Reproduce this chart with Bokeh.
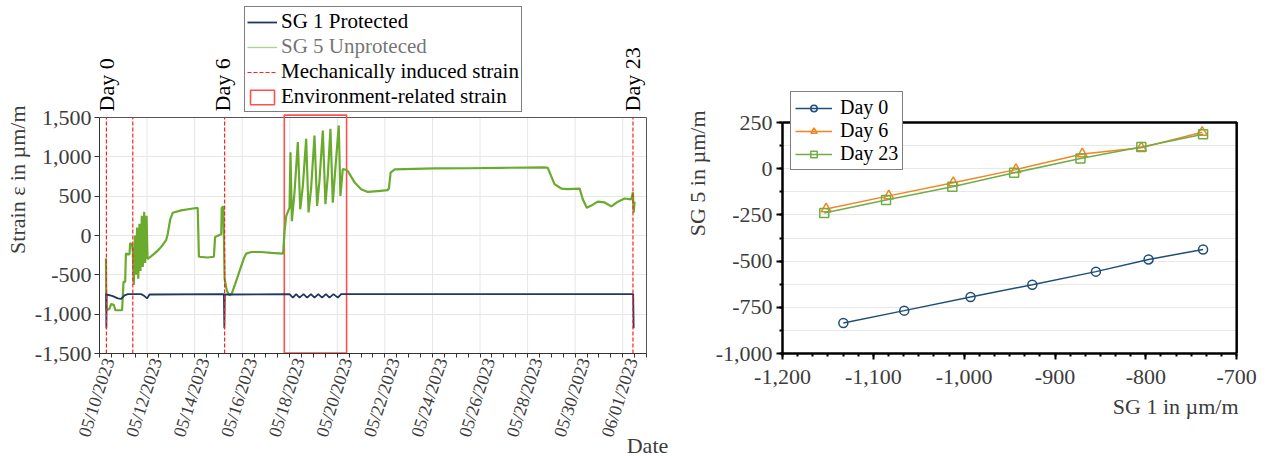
from math import pi
import pandas as pd
from bokeh.plotting import figure
from bokeh.layouts import row
from bokeh.core.properties import value
from bokeh.models import (Legend, LegendItem, FixedTicker, SingleIntervalTicker, Title,
                          NumeralTickFormatter, DatetimeTickFormatter, Range1d)
from bokeh.embed import file_html
from bokeh.resources import INLINE

# ---------------- data: left panel (time series) ----------------
START = "2023-05-10 00:00"          # origin of the day offsets below
END_DAY = 23                        # x axis spans 05/10 00:00 .. 06/02 00:00
date_tick_labels = ["05/10/2023", "05/12/2023", "05/14/2023", "05/16/2023", "05/18/2023",
                    "05/20/2023", "05/22/2023", "05/24/2023", "05/26/2023", "05/28/2023",
                    "05/30/2023", "06/01/2023"]

sg1_days = [0.25, 0.28, 0.29, 0.30, 0.45, 0.56, 0.77, 0.91, 1.05, 1.19, 1.75, 1.89, 2.00, 2.10,
            5.23, 5.25, 5.27, 7.99, 8.13, 8.27, 8.41, 8.58, 8.73, 8.89, 9.04, 9.20, 9.36, 9.52,
            9.67, 9.84, 10.02, 10.16, 22.44, 22.46]
sg1_vals = [-745, -745, -1180, -750, -760, -770, -800, -805, -760, -745, -745, -770, -800, -750,
            -745, -1180, -750, -745, -790, -745, -790, -745, -790, -745, -790, -745, -790, -745,
            -790, -745, -790, -745, -745, -1180]

sg5_days = [0.27, 0.29, 0.42, 0.49, 0.60, 0.67, 0.95, 1.01, 1.08, 1.11, 1.26, 1.29, 1.37,
            1.40, 1.44, 1.49, 1.54, 1.58, 1.63, 1.68, 1.72, 1.78, 1.82, 1.88, 1.92, 1.98, 2.02,
            2.10, 2.31, 2.52, 2.66, 2.80, 2.87, 2.97, 3.08, 3.43, 3.86, 4.13, 4.18, 4.55, 4.81,
            4.86, 5.00, 5.12, 5.14, 5.21, 5.26, 5.35, 5.47, 5.56, 5.70, 5.89, 6.07, 6.17, 6.38,
            6.80, 7.22, 7.72,
            7.78, 7.85, 7.99, 8.03, 8.09, 8.20, 8.34, 8.44, 8.55, 8.69, 8.79, 8.90, 9.04, 9.15,
            9.25, 9.39, 9.50, 9.60, 9.71, 9.81, 9.91, 10.06, 10.13, 10.23, 10.39,
            10.44, 10.72, 11.00, 11.28, 11.70, 12.12, 12.17, 12.24, 12.41, 14.09, 15.49, 16.89,
            18.71, 18.85, 19.13, 19.42, 19.69, 20.19, 20.32, 20.49, 20.68, 20.95, 21.24, 21.52,
            21.80, 22.08, 22.36, 22.43, 22.46, 22.50]
sg5_vals = [-290, -950, -930, -870, -880, -950, -950, -590, -590, -230, -240, -100, -110,
            -200, -630, 0, -500, 100, -550, 150, -450, 250, -400, 300, -350, 250, -300,
            -280, -230, -170, -120, -60, 20, 200, 290, 320, 340, 350, -270, -280, -270,
            -20, 0, 20, 350, 370, -550, -700, -760, -740, -620, -450, -290, -230, -210,
            -210, -220, -230,
            55, 247, 354, 1058, 183, 550, 1187, 333, 631, 1229, 294, 610, 1271, 375,
            700, 1335, 397, 760, 1357, 418, 820, 1399, 503, 845, 832,
            820, 678, 589, 554, 565, 576, 600, 800, 840, 853, 855, 860,
            866, 860, 653, 597, 590, 597, 461, 354, 380, 430, 420, 370,
            430, 470, 460, 550, 290, 430]

mech_days = [0.29, 1.40, 5.26, 22.43]        # mechanically induced strain events
day_mark_labels = ["Day 0", "Day 6", "Day 23"]
day_mark_days = [0.29, 5.19, 22.41]
env_days = [7.77, 10.39]                     # environment-related strain window
env_vals = [-1495, 1530]

# ---------------- data: right panel (SG 1 vs SG 5) ----------------
d0_x = [-1133, -1066, -993, -925, -855, -797, -737]
d0_y = [-835, -768, -694, -628, -557, -491, -437]
d6_x = [-1152, -1083, -1012, -943, -870, -805, -738]
d6_y = [-218, -147, -76, -5, 80, 113, 197]
d23_x = [-1154, -1086, -1013, -945, -872, -805, -737]
d23_y = [-240, -169, -98, -22, 55, 117, 186]

# ---------------- styling ----------------
FONT = "Liberation Serif"
TXT = "#3c3c3c"
NAVY = "#1f3864"
GREEN = "#6aab2e"
RED = "#ff2020"
FRAME_H = 353          # both frames span the canvas from its top to the data-box bottom
BOTTOM = 103
LABEL_SHIFT_DAYS = 0.4 # date labels sit a little right of their grid line, as in the original

t0 = pd.Timestamp(START)
def to_dt(days):
    return [t0 + pd.Timedelta(days=d) for d in days]
def to_ms(ts):
    return (pd.Timestamp(ts) - pd.Timestamp("1970-01-01")).total_seconds() * 1000.0

def style_axis(ax, color, lw, tlw, tout):
    ax.axis_line_color = color
    ax.axis_line_width = lw
    ax.major_tick_line_color = color
    ax.major_tick_line_width = tlw
    ax.minor_tick_line_color = color
    ax.minor_tick_line_width = tlw
    ax.major_tick_in = 0
    ax.major_tick_out = tout
    ax.minor_tick_in = 0
    ax.minor_tick_out = 3
    ax.major_label_text_font = FONT
    ax.major_label_text_font_size = "22px"
    ax.major_label_text_color = TXT
    ax.axis_label_text_font = FONT
    ax.axis_label_text_font_size = "22px"
    ax.axis_label_text_font_style = "normal"
    ax.axis_label_text_color = TXT

def side_title(text, align, offset, standoff):
    return Title(text=text, align=align, offset=offset, standoff=standoff,
                 text_font=FONT, text_font_size="22px", text_font_style="normal",
                 text_color=TXT)

# ================= left figure =================
L_DATA_H = 236                      # data box height in px (-1500 .. 1500)
L_ABOVE = FRAME_H - L_DATA_H        # room above the data box for legend / day marks
y_per_px = 3000 / L_DATA_H
x_pad_days = 1.0 / 23.78            # one pixel of room so the right edge is visible
p1 = figure(x_axis_type="datetime", title=None, frame_width=548, frame_height=FRAME_H,
            x_range=Range1d(to_ms(t0), to_ms(t0 + pd.Timedelta(days=END_DAY + x_pad_days))),
            y_range=Range1d(-1500, 1500 + L_ABOVE * y_per_px),
            min_border_left=97, min_border_right=24, min_border_top=0, min_border_bottom=BOTTOM,
            output_backend="svg", toolbar_location=None)
p1.background_fill_color = "white"
p1.outline_line_color = None

tick_ms = [to_ms(pd.to_datetime(s, format="%m/%d/%Y")) for s in date_tick_labels]
label_ms = [m + LABEL_SHIFT_DAYS * 86400000.0 for m in tick_ms]
minor_ms = [to_ms(t) for t in pd.date_range(t0, t0 + pd.Timedelta(days=END_DAY), freq="12h")]
p1.xaxis.ticker = FixedTicker(ticks=label_ms, minor_ticks=minor_ms)
fmt = "%m/%d/%Y"
p1.xaxis.formatter = DatetimeTickFormatter(microseconds=fmt, milliseconds=fmt, seconds=fmt,
                                           minsec=fmt, minutes=fmt, hourmin=fmt, hours=fmt,
                                           days=fmt, months=fmt, years=fmt)
p1.xaxis.major_label_orientation = 72 * pi / 180
p1.xaxis.bounds = (to_ms(t0), to_ms(t0 + pd.Timedelta(days=END_DAY)))
p1.yaxis.bounds = (-1500, 1500)
p1.xaxis.axis_label = "Date"
p1.yaxis.ticker = SingleIntervalTicker(interval=500, num_minor_ticks=0)
p1.yaxis.formatter = NumeralTickFormatter(format="0,0")
for ax in (p1.xaxis[0], p1.yaxis[0]):
    style_axis(ax, "#333333", 1, 1, 5)
p1.xaxis.major_tick_line_color = None     # tick marks come from the 12-hour minor ticks
p1.xaxis.minor_tick_out = 4
p1.xaxis.major_label_text_font_size = "18px"
p1.xaxis.major_label_standoff = 0
p1.xaxis.axis_label_standoff = -13
try:
    p1.xaxis.axis_label_align = "end"
except Exception:
    pass
p1.yaxis.major_label_standoff = 3
p1.add_layout(side_title("Strain ε in µm/m", "right", 105, 4), "left")

p1.xgrid.grid_line_color = None
p1.ygrid.grid_line_color = "#e6e6e6"
p1.segment(x0=tick_ms, x1=tick_ms, y0=[-1500] * len(tick_ms), y1=[1500] * len(tick_ms),
           line_color="#e6e6e6", line_width=1, level="underlay")

# top and right edges of the data box
xb0, xb1 = p1.xaxis[0].bounds
p1.line(x=[xb0, xb1, xb1], y=[1500, 1500, -1500], line_color="#555555", line_width=1)

r_env = p1.quad(left=[to_dt([env_days[0]])[0]], right=[to_dt([env_days[1]])[0]],
                bottom=[env_vals[0]], top=[env_vals[1]],
                fill_color=None, line_color="#ff5050", line_width=1.6)
r_sg5 = p1.line(x=to_dt(sg5_days), y=sg5_vals, line_color=GREEN, line_width=2.2)
r_sg1 = p1.line(x=to_dt(sg1_days), y=sg1_vals, line_color=NAVY, line_width=1.8)
mech_dt = to_dt(mech_days)
r_mech = p1.segment(x0=mech_dt, y0=[-1500] * len(mech_dt), x1=mech_dt, y1=[1500] * len(mech_dt),
                    line_color=RED, line_dash="4 2", line_width=1.2)
# hidden renderer used only for the greyed "SG 5" legend entry
lg_sg5 = p1.line(x=[t0], y=[0], line_color=GREEN, line_width=1.3, visible=False)

p1.text(x=to_dt(day_mark_days), y=[1500 + 6 * y_per_px] * len(day_mark_days),
        text=day_mark_labels, angle=pi / 2, text_align="left", text_baseline="middle",
        text_font=value(FONT), text_font_size=value("22px"), text_color="black")

leg1 = Legend(items=[LegendItem(label="SG 1 Protected", renderers=[r_sg1]),
                     LegendItem(label="SG 5 Unproteced", renderers=[lg_sg5]),
                     LegendItem(label="Mechanically induced strain", renderers=[r_mech]),
                     LegendItem(label="Environment-related strain", renderers=[r_env])],
              location=(145, FRAME_H - 112), click_policy="hide",
              inactive_fill_color="white", inactive_fill_alpha=0.45,
              border_line_color="black", border_line_width=1,
              background_fill_color="white", background_fill_alpha=1,
              label_text_font=FONT, label_text_font_size="21px", label_text_color="black",
              glyph_width=30, glyph_height=18, label_standoff=4, spacing=0,
              padding=2, margin=0)
p1.add_layout(leg1, "center")

# ================= right figure =================
R_DATA_H = 231                      # data box height in px (-1000 .. 250)
r_per_px = 1250 / R_DATA_H
p2 = figure(title=None, frame_width=456, frame_height=FRAME_H,
            x_range=Range1d(-1200, -698),
            y_range=Range1d(-1000, 250 + (FRAME_H - R_DATA_H) * r_per_px),
            min_border_left=111, min_border_right=22, min_border_top=0, min_border_bottom=BOTTOM,
            output_backend="svg", toolbar_location=None)
p2.outline_line_color = None
p2.xaxis.ticker = SingleIntervalTicker(interval=100, num_minor_ticks=6)
p2.yaxis.ticker = SingleIntervalTicker(interval=250, num_minor_ticks=2)
p2.xaxis.formatter = NumeralTickFormatter(format="0,0")
p2.yaxis.formatter = NumeralTickFormatter(format="0,0")
p2.xaxis.bounds = (-1200, -700)
p2.yaxis.bounds = (-1000, 250)
for ax in (p2.xaxis[0], p2.yaxis[0]):
    style_axis(ax, "black", 2.5, 2, 6)
p2.xaxis.major_label_standoff = 10
p2.yaxis.major_label_standoff = 4
p2.add_layout(side_title("SG 5 in µm/m", "right", 110, 6), "left")
p2.add_layout(side_title("SG 1 in µm/m", "right", 0, 10), "below")
p2.xgrid.grid_line_color = None
p2.ygrid.grid_line_color = "#e8e8e8"
p2.ygrid.minor_grid_line_color = "#e8e8e8"

bx0, bx1 = p2.xaxis[0].bounds
by0, by1 = p2.yaxis[0].bounds
p2.line(x=[bx0, bx1, bx1], y=[by1, by1, by0], line_color="black", line_width=2.5)

series = [("Day 0", d0_x, d0_y, "#1f4e79", "circle", 9),
          ("Day 6", d6_x, d6_y, "#f5841f", "triangle", 10),
          ("Day 23", d23_x, d23_y, "#70ad47", "square", 9)]
items = []
for name, xs, ys, col, mk, sz in series:
    rl = p2.line(x=xs, y=ys, line_color=col, line_width=1.5)
    rs = p2.scatter(x=xs, y=ys, marker=mk, size=sz, line_color=col, line_width=1.5,
                    fill_color="white", fill_alpha=0.0)
    items.append(LegendItem(label=name, renderers=[rl, rs]))
leg2 = Legend(items=items, location=(8, FRAME_H - 170),
              border_line_color="black", border_line_width=1.5,
              background_fill_color="white", background_fill_alpha=1,
              label_text_font=FONT, label_text_font_size="20px", label_text_color="black",
              glyph_width=37, glyph_height=16, label_standoff=8, spacing=0,
              padding=4, margin=0)
p2.add_layout(leg2, "center")

layout = row(p1, p2)
open("out.html", "w").write(file_html(layout, INLINE))
